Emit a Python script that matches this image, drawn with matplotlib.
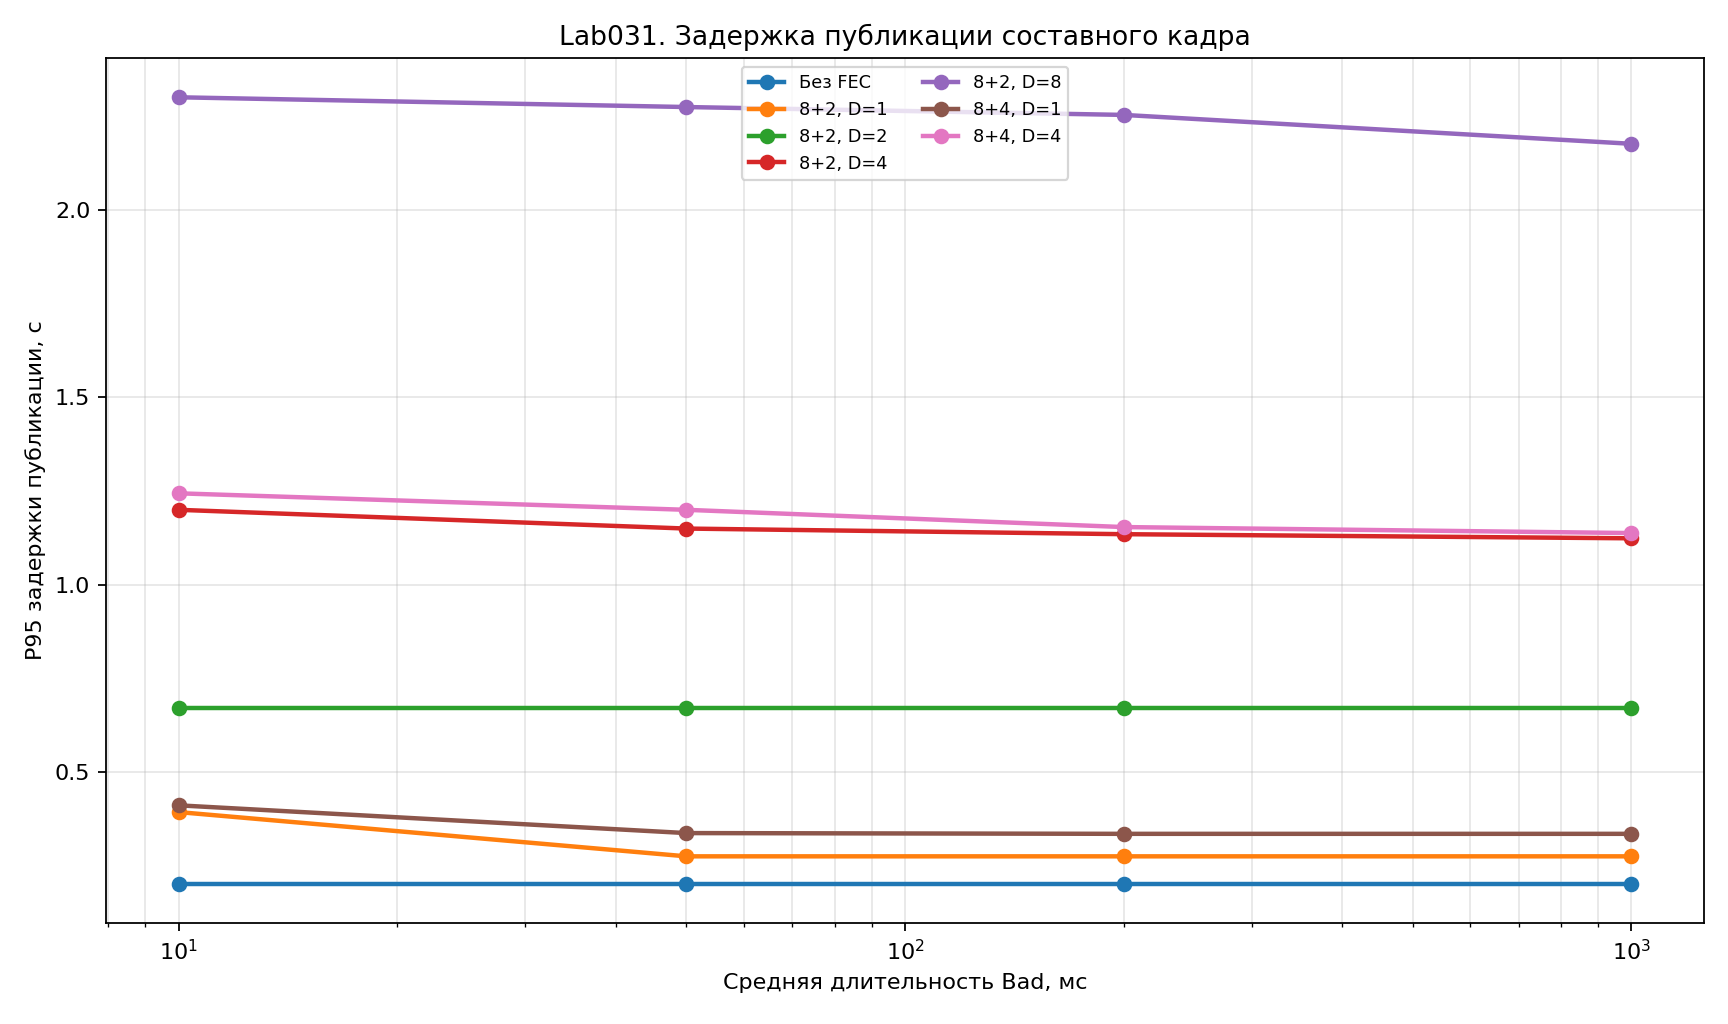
import matplotlib
matplotlib.use("Agg")
import matplotlib.pyplot as plt

x_ms = [10, 50, 200, 1000]
labels = ["Без FEC", "8+2, D=1", "8+2, D=2", "8+2, D=4", "8+2, D=8", "8+4, D=1", "8+4, D=4"]
no_fec = [0.203, 0.203, 0.203, 0.203]
fec82_d1 = [0.394, 0.276, 0.276, 0.276]
fec82_d2 = [0.671, 0.671, 0.671, 0.671]
fec82_d4 = [1.200, 1.150, 1.135, 1.124]
fec82_d8 = [2.300, 2.274, 2.253, 2.176]
fec84_d1 = [0.412, 0.338, 0.336, 0.336]
fec84_d4 = [1.244, 1.200, 1.154, 1.138]
series = [no_fec, fec82_d1, fec82_d2, fec82_d4, fec82_d8, fec84_d1, fec84_d4]

fig, ax = plt.subplots(figsize=(10.8, 6.4), dpi=160)
for lab, ys in zip(labels, series):
    ax.plot(x_ms, ys, marker="o", linewidth=2, label=lab)
ax.set_xscale("log")
ax.set_title("Lab031. Задержка публикации составного кадра")
ax.set_xlabel("Средняя длительность Bad, мс")
ax.set_ylabel("P95 задержки публикации, с")
ax.grid(True, which="both", alpha=0.3)
ax.legend(loc="upper center", ncol=2, fontsize=8)
fig.subplots_adjust(left=0.0613, right=0.9861, top=0.9434, bottom=0.0986)
fig.savefig("out.png")
